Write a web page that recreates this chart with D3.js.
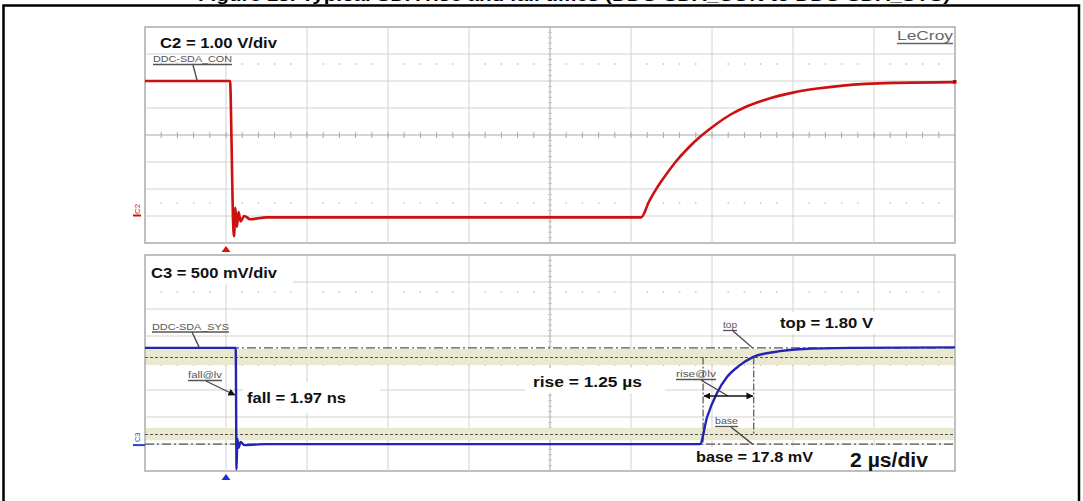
<!DOCTYPE html>
<html><head><meta charset="utf-8">
<script src="https://cdn.jsdelivr.net/npm/d3@7"></script>
<style>body{margin:0;background:#fff;} svg{display:block;font-family:Arial,"Liberation Sans",sans-serif;}</style>
</head><body><svg id="c" width="1083" height="501"></svg>
<script>
// ---- data (time in µs, voltage in V) ----
const timeC2 = [-2, 0.10, 0.14, 0.17, 0.20, 0.23, 0.27, 0.31, 0.36, 0.45, 0.6, 1.0, 4, 8, 10.25, 10.45, 10.64, 10.85, 11.1, 11.4, 11.72, 12.1, 12.45, 12.8, 13.3, 14.0, 14.6, 15.23, 16.47, 18];
const voltC2 = [5.0, 5.0, 2.5, 0.0, -0.75, 0.3, -0.4, 0.15, -0.2, 0.0, -0.12, -0.05, -0.05, -0.05, -0.05, 0.55, 1.04, 1.5, 2.0, 2.5, 2.95, 3.4, 3.75, 4.02, 4.3, 4.57, 4.72, 4.83, 4.93, 4.96];
const timeC3 = [-2, 0.24, 0.26, 0.28, 0.31, 0.36, 0.45, 1.0, 6, 11.70, 11.88, 12.12, 12.37, 12.69, 13.01, 13.51, 14.25, 15.4, 18];
const voltC3 = [1.80, 1.80, -0.45, 0.12, -0.05, 0.06, 0.0, 0.018, 0.018, 0.018, 0.52, 0.96, 1.26, 1.48, 1.63, 1.72, 1.78, 1.80, 1.81];
const topLevel = 1.80, baseLevel = 0.0178;
const riseTime = 1.25, riseStart = 11.78;
const bandTop = [1.48, 1.78], bandBase = [0.09, 0.32];
const timeDomain = [-2, 18], c2Domain = [-1, 7], c3Domain = [-0.48, 3.52];
const title = "Figure 13. Typical SDA rise and fall times (DDC-SDA_CON to DDC-SDA_SYS)";

const svg = d3.select("#c");
const P1 = {x:145, y:27, w:810, h:216}, P2 = {x:145, y:255, w:810, h:216};
const x = d3.scaleLinear(timeDomain, [P1.x, P1.x+P1.w]);
const y2 = d3.scaleLinear(c2Domain, [P1.y+P1.h, P1.y]);
const y3 = d3.scaleLinear(c3Domain, [P2.y+P2.h, P2.y]);

// title (cut off at the top, as in the reference)
svg.append("text").attr("x",198).attr("y",0.5).attr("textLength",752).attr("lengthAdjust","spacingAndGlyphs")
  .attr("font-size",16).attr("font-weight","bold").text(title);
// outer frame
svg.append("rect").attr("x",3.5).attr("y",5.5).attr("width",1075.5).attr("height",520)
  .attr("fill","none").attr("stroke","#000").attr("stroke-width",2.5);

function panel(P){
  const g = svg.append("g");
  g.append("rect").attr("x",P.x).attr("y",P.y).attr("width",P.w).attr("height",P.h).attr("fill","#fff").attr("stroke","#b0b0b0").attr("stroke-width",1.6);
  for(let i=1;i<10;i++) g.append("line").attr("x1",P.x+i*P.w/10).attr("x2",P.x+i*P.w/10).attr("y1",P.y).attr("y2",P.y+P.h)
     .attr("stroke", i==5?"#a8a8a8":"#d2d2d2").attr("stroke-width",1);
  for(let j=1;j<8;j++) g.append("line").attr("x1",P.x).attr("x2",P.x+P.w).attr("y1",P.y+j*P.h/8).attr("y2",P.y+j*P.h/8)
     .attr("stroke", j==4?"#a8a8a8":"#d2d2d2").attr("stroke-width",1);
  const cy = P.y+P.h/2, cx = P.x+P.w/2;
  for(let k=1;k<50;k++){ const tx=P.x+k*P.w/50;
    g.append("line").attr("x1",tx).attr("x2",tx).attr("y1",cy-3).attr("y2",cy+3).attr("stroke","#a8a8a8");
  }
  for(let k=1;k<40;k++){ const ty=P.y+k*P.h/40;
    g.append("line").attr("x1",cx-2).attr("x2",cx+2).attr("y1",ty).attr("y2",ty).attr("stroke","#c4c4c4");
  }
  [P.y+37, P.y+P.h-40].forEach(ry=>{
    for(let k=1;k<50;k++){ if(k%5==0) continue; const tx=P.x+k*P.w/50;
      g.append("rect").attr("x",tx-0.7).attr("y",ry-0.7).attr("width",1.4).attr("height",1.4).attr("fill","#bdbdbd");
    }
  });
  return g;
}
panel(P1); panel(P2);

// bands and level lines (bottom)
[bandTop, bandBase].forEach(b=>{
  svg.append("rect").attr("x",P2.x+1).attr("width",P2.w-2).attr("y",y3(b[1])).attr("height",y3(b[0])-y3(b[1])).attr("fill","#ebe8d0");
});
[topLevel, baseLevel].forEach(v=>{
  svg.append("line").attr("x1",P2.x).attr("x2",P2.x+P2.w).attr("y1",y3(v)).attr("y2",y3(v))
   .attr("stroke","#555").attr("stroke-width",1.3).attr("stroke-dasharray","9,3,2,3");
});
const lv10 = baseLevel+0.1*(topLevel-baseLevel), lv90 = baseLevel+0.9*(topLevel-baseLevel);
[lv10, lv90].forEach(v=>{
  svg.append("line").attr("x1",P2.x).attr("x2",P2.x+P2.w).attr("y1",y3(v)).attr("y2",y3(v))
   .attr("stroke","#555").attr("stroke-width",1.2).attr("stroke-dasharray","3,2");
});
// rise cursors
svg.append("line").attr("x1",x(riseStart)).attr("x2",x(riseStart)).attr("y1",y3(lv90)).attr("y2",y3(baseLevel))
  .attr("stroke","#555").attr("stroke-width",1.2).attr("stroke-dasharray","7,2,2,2");
svg.append("line").attr("x1",x(riseStart+riseTime)).attr("x2",x(riseStart+riseTime)).attr("y1",y3(lv90)).attr("y2",y3(lv10))
  .attr("stroke","#555").attr("stroke-width",1.2).attr("stroke-dasharray","7,2,2,2");

// white label boxes
function box(x0,y0,w,h){ svg.append("rect").attr("x",x0).attr("y",y0).attr("width",w).attr("height",h).attr("fill","#fff"); }
box(146,28,154,25); box(146,256,147,27.5); box(243,382,137,31); box(525,368,140,25);
box(770,312,115,22); box(690,447,128,23); box(840,446,112,24);

// traces
const line = (ys)=>d3.line().x(d=>x(d[0])).y(d=>ys(d[1])).curve(d3.curveMonotoneX);
svg.append("path").datum(d3.zip(timeC2,voltC2)).attr("d",line(y2)).attr("fill","none").attr("stroke","#cc1111").attr("stroke-width",2.6);
svg.append("path").datum(d3.zip(timeC3,voltC3)).attr("d",line(y3)).attr("fill","none").attr("stroke","#2323b4").attr("stroke-width",2.4);
svg.append("rect").attr("x",x(18)-2).attr("y",y2(voltC2[voltC2.length-1])-2).attr("width",3.5).attr("height",3.5).attr("fill","#a00");

// trigger markers
svg.append("path").attr("d",`M${x(0)},${P1.y+P1.h+3}l4.5,6h-9z`).attr("fill","#e01010");
svg.append("path").attr("d",`M${x(0)},${P2.y+P2.h+3}l4.5,6h-9z`).attr("fill","#2030d0");

// channel markers
svg.append("text").attr("transform",`translate(140,${y2(0)-2}) rotate(-90)`).attr("font-size",8).attr("fill","#d01010").text("C2");
svg.append("rect").attr("x",133).attr("y",y2(0)-1.5).attr("width",8).attr("height",2).attr("fill","#d01010");
svg.append("text").attr("transform",`translate(139.5,${y3(0)-3}) rotate(-90)`).attr("font-size",7.5).attr("fill","#3040d0").text("C3");
svg.append("rect").attr("x",133).attr("y",y3(0)-1).attr("width",12).attr("height",2).attr("fill","#3040d0");

// bold labels
function bold(t,x0,yb,len,fs,fill){ svg.append("text").attr("x",x0).attr("y",yb).attr("font-size",fs||14).attr("font-weight","bold")
  .attr("fill",fill||"#111").attr("textLength",len).attr("lengthAdjust","spacingAndGlyphs").text(t); }
bold("C2 = 1.00 V/div",160,48,117);
bold("C3 = 500 mV/div",151,278,126);
bold("fall = 1.97 ns",247,403,99);
bold("rise =  1.25 µs",533,387,109);
bold("top = 1.80 V",780,328,93);
bold("base = 17.8 mV",696,462,117);
bold("2 µs/div",850,467,78,20);

// small underlined labels
function small(t,x0,yb,len,fs){
  svg.append("text").attr("x",x0).attr("y",yb).attr("font-size",fs||9.5).attr("fill","#555")
   .attr("textLength",len).attr("lengthAdjust","spacingAndGlyphs").text(t);
  svg.append("line").attr("x1",x0).attr("x2",x0+len).attr("y1",yb+2.5).attr("y2",yb+2.5).attr("stroke","#555").attr("stroke-width",1.3);
}
small("DDC-SDA_CON",153,62,79);
small("DDC-SDA_SYS",152,329.5,77);
small("fall@lv",188,378,34);
small("rise@lv",676,377,40);
small("top",723,328,14);
small("base",715,424,23);
svg.append("text").attr("x",897).attr("y",40).attr("font-size",13).attr("fill","#666").attr("textLength",56).attr("lengthAdjust","spacingAndGlyphs").text("LeCroy");
svg.append("line").attr("x1",897).attr("x2",953).attr("y1",43.5).attr("y2",43.5).attr("stroke","#666").attr("stroke-width",1.3);

// leader lines
const defs = svg.append("defs");
defs.append("marker").attr("id","ah").attr("viewBox","0 0 10 10").attr("refX",9).attr("refY",5).attr("markerWidth",7).attr("markerHeight",7)
  .attr("orient","auto-start-reverse").attr("markerUnits","userSpaceOnUse").append("path").attr("d","M0,0L10,5L0,10z").attr("fill","#111");
function lead(x1,y1,xa,ya,arrow){ const l=svg.append("line").attr("x1",x1).attr("y1",y1).attr("x2",xa).attr("y2",ya).attr("stroke","#444").attr("stroke-width",1.3);
  if(arrow) l.attr("marker-end","url(#ah)"); return l; }
lead(193,65,197,y2(voltC2[0])-1);
lead(192,332,199,y3(topLevel)-1);
lead(206,381,x(timeC3[1])-1,395,true);
lead(701,380,728,y3(0.91));
lead(733,331,x(13.0),y3(topLevel));
lead(731,427,x(13.0),y3(baseLevel));
// rise double arrow
svg.append("line").attr("x1",x(riseStart)+1).attr("x2",x(riseStart+riseTime)-1).attr("y1",y3(0.91)).attr("y2",y3(0.91))
  .attr("stroke","#111").attr("stroke-width",1.5).attr("marker-end","url(#ah)").attr("marker-start","url(#ah)");
</script></body></html>
